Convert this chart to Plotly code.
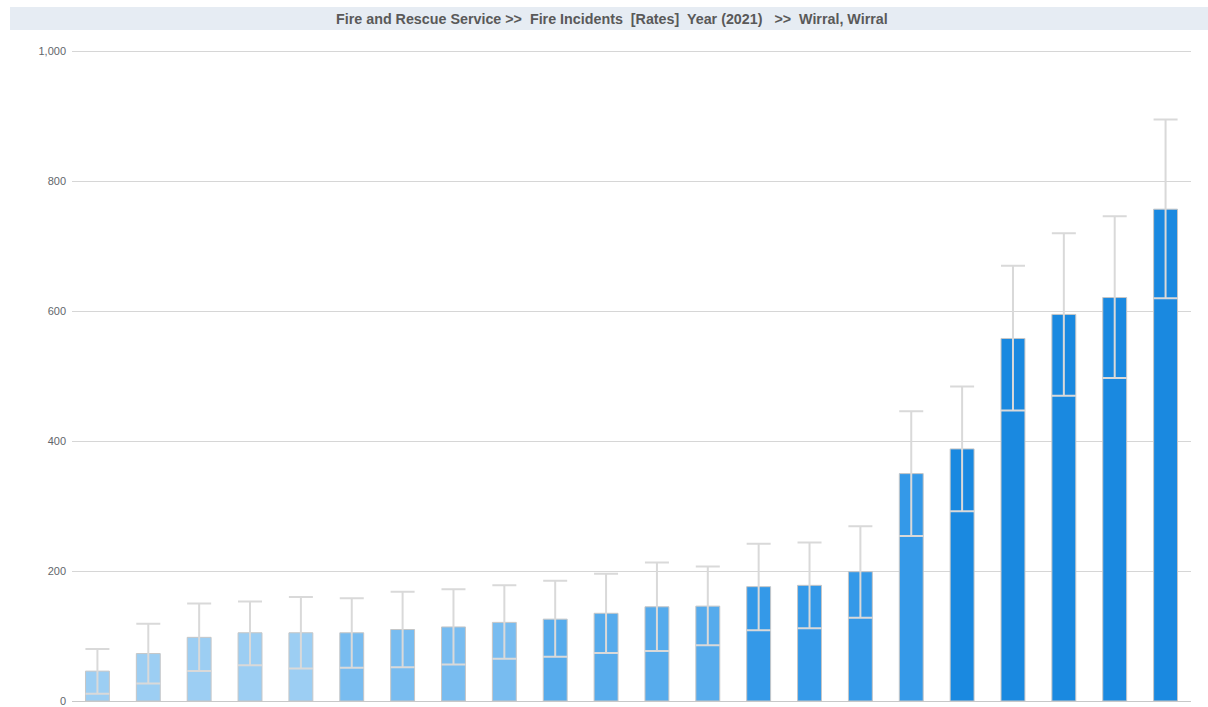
import plotly.graph_objects as go

# Fire incident rates per area, sorted ascending, with confidence limits
areas = [f"Area {i}" for i in range(1, 23)]
rates = [46, 73, 98, 105, 105, 105, 110, 114, 121, 126, 135, 145, 146,
         176, 178, 199, 350, 388, 558, 595, 621, 757]
lower = [11, 27, 46, 55, 50, 51, 52, 56, 65, 68, 74, 77, 86,
         109, 112, 128, 254, 292, 447, 470, 497, 620]
upper = [80, 119, 150, 153, 160, 158, 168, 172, 178, 185, 196, 213, 207,
         242, 244, 269, 446, 484, 670, 720, 746, 895]
bar_colors = (["#9CCEF3"] * 5 + ["#78BCF0"] * 4 + ["#56ABEC"] * 4 +
              ["#3499E8"] * 4 + ["#1A89E0"] * 5)

tick_vals = [0, 200, 400, 600, 800, 1000]
title_text = "Fire and Rescue Service >>  Fire Incidents  [Rates]  Year (2021)   >>  Wirral, Wirral"

err_plus = [u - r for u, r in zip(upper, rates)]
err_minus = [r - l for r, l in zip(rates, lower)]

fig = go.Figure(
    go.Bar(
        x=areas,
        y=rates,
        marker=dict(color=bar_colors, line=dict(color="#C6C6C6", width=1)),
        error_y=dict(
            type="data",
            symmetric=False,
            array=err_plus,
            arrayminus=err_minus,
            color="#D9D9D9",
            thickness=2,
            width=12,
        ),
        hoverinfo="x+y",
    )
)

W, H = 1208, 707
ml, mr, mt, mb = 72, 17, 50, 6
pw, ph = W - ml - mr, H - mt - mb
y_top = 1002

# Header band with the breadcrumb title
fig.add_shape(
    type="rect", xref="paper", yref="paper",
    x0=(10 - ml) / pw, x1=(W - ml) / pw,
    y0=1 + (mt - 30) / ph, y1=1 + (mt - 7) / ph,
    fillcolor="#E6ECF3", line=dict(width=0), layer="below",
)
fig.add_annotation(
    text=f"<b>{title_text}</b>", xref="paper", yref="paper",
    x=(612 - ml) / pw, y=1 + (mt - 18.5) / ph,
    xanchor="center", yanchor="middle", showarrow=False,
    font=dict(family="Liberation Sans, Arial, sans-serif", size=14.3, color="#595959"),
)

fig.update_layout(
    width=W, height=H,
    margin=dict(l=ml, r=mr, t=mt, b=mb, autoexpand=False),
    paper_bgcolor="white", plot_bgcolor="white",
    bargap=0.53,
    showlegend=False,
    font=dict(family="Liberation Sans, Arial, sans-serif", size=11, color="#666666"),
)
fig.update_xaxes(showticklabels=False, showgrid=False, zeroline=False,
                 showline=False, range=[-0.5, 21.5], automargin=False)
fig.update_yaxes(range=[0, y_top], tickvals=tick_vals, tickformat=",",
                 showgrid=True, gridcolor="#D6D6D6", gridwidth=1,
                 zeroline=True, zerolinecolor="#C8C8C8", zerolinewidth=1,
                 ticks="", ticklabelstandoff=5, automargin=False,
                 tickfont=dict(size=11, color="#62666B"))

fig.write_html("out.html")
